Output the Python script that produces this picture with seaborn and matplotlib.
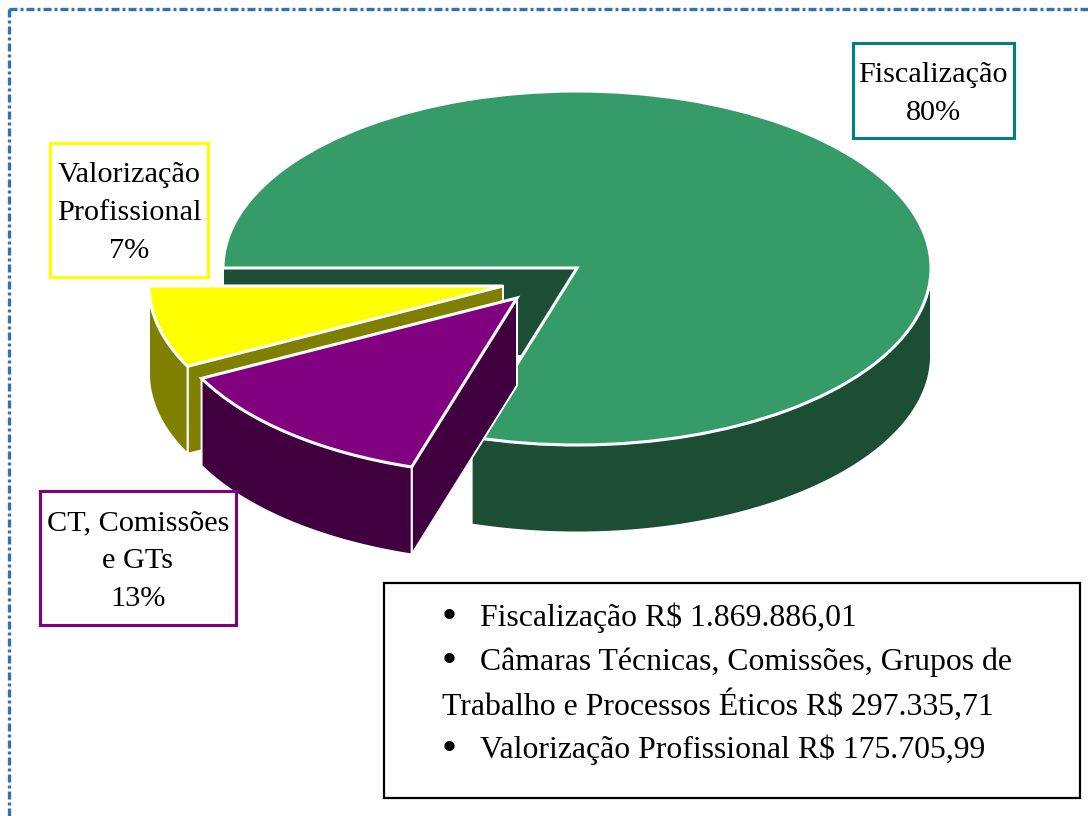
import numpy as np
import seaborn as sns
import matplotlib.pyplot as plt
from matplotlib.patches import Rectangle

categories = ["Fiscalização", "CT, Comissões\ne GTs", "Valorização\nProfissional"]
amounts = [1869886.01, 297335.71, 175705.99]
percent_labels = ["80%", "13%", "7%"]
legend_lines = ["Fiscalização R$ 1.869.886,01",
                "Câmaras Técnicas, Comissões, Grupos de",
                "Trabalho e Processos Éticos R$ 297.335,71",
                "Valorização Profissional R$ 175.705,99"]
top_colors = ["#359b68", "#800080", "#ffff00"]
side_colors = ["#1c4e36", "#400040", "#808000"]

W, H = 1088, 816
RX, RY = 354.0, 177.0
CX, CY = 577.0, 268.0
DEPTH = 87.5 / RY

sns.set_theme(style="white")
plt.rcParams["font.family"] = ["Liberation Serif", "DejaVu Serif"]

fig = plt.figure(figsize=(W / 100, H / 100), dpi=100)
ax = fig.add_axes([0, 0, 1, 1])
wedges, _ = ax.pie(amounts, colors=top_colors, startangle=180, counterclock=False,
                   wedgeprops=dict(edgecolor="white", linewidth=2.2))
# pie forces equal aspect, the tilt comes from squashing y
ax.set_aspect("auto")
ax.set_xlim(-CX / RX, (W - CX) / RX)
ax.set_ylim(-(H - CY) / RY, CY / RY)
ax.axis("off")


def fx(x):
    return x / W


def fy(y):
    return 1 - y / H


# slice offsets in data units
offsets = [(0, 0), ((517 - CX) / RX, (CY - 298) / RY), ((503 - CX) / RX, (CY - 286) / RY)]
shares = np.array(amounts) / sum(amounts) * 360
ends = 180 - np.cumsum(shares)
starts = ends + shares


def pt(a, off):
    return off[0] + np.cos(np.radians(a)), off[1] + np.sin(np.radians(a))


def wall(a1, a2, off, color, z):
    t = np.radians(np.linspace(a1, a2, 120))
    xs = off[0] + np.cos(t)
    ys = off[1] + np.sin(t)
    ax.fill(np.r_[xs, xs[::-1]], np.r_[ys, ys[::-1] - DEPTH], color=color,
            edgecolor="white", linewidth=1.4, zorder=z)


def face(a, off, color, z):
    px, py = pt(a, off)
    ax.fill([off[0], px, px, off[0]], [off[1], py, py - DEPTH, off[1] - DEPTH], color=color,
            edgecolor="white", linewidth=1.4, zorder=z)


# green: cut face behind the gap and the front wall
face(starts[0], offsets[0], side_colors[0], 1)
wall(ends[0], 0, offsets[0], side_colors[0], 1.5)
wedges[0].set_zorder(2)

# yellow: cut face towards purple and the outer wall
face(ends[1], offsets[2], side_colors[2], 3)
wall(ends[2] , starts[2], offsets[2], side_colors[2], 3)
wedges[2].set_center(offsets[2])
wedges[2].set_zorder(4)

# purple: cut face towards green and the outer wall
face(starts[1], offsets[1], side_colors[1], 5)
wall(ends[1], starts[1], offsets[1], side_colors[1], 5)
wedges[1].set_center(offsets[1])
wedges[1].set_zorder(6)

# dashed frame of the page, only top and left are in the crop
frame = dict(color="#2e74b5", linewidth=2.4, linestyle=(0, (2.4, 0.9, 0.9, 0.9)), transform=fig.transFigure, zorder=10)
ax.plot([fx(9), fx(W)], [fy(9), fy(9)], **frame, clip_on=False)
ax.plot([fx(9), fx(9)], [fy(9), fy(H)], **frame, clip_on=False)

label_boxes = [(853, 43, 161, 95, "#008080", 933),
               (40, 491, 196, 134, "#800080", 138),
               (50, 143, 158, 134, "#ffff00", 129)]
for (x, y, w, h, col, tx), cat, pct in zip(label_boxes, categories, percent_labels):
    fig.add_artist(Rectangle((fx(x), fy(y + h)), w / W, h / H, transform=fig.transFigure,
                             facecolor="white", edgecolor=col, linewidth=2.2, zorder=11))
    fig.text(fx(tx), fy(y + h / 2 + 3), cat + "\n" + pct, ha="center", va="center", fontsize=21.8,
             color="black", linespacing=1.6, zorder=12)

fig.add_artist(Rectangle((fx(384), fy(798)), 696 / W, 215 / H, transform=fig.transFigure,
                         facecolor="white", edgecolor="black", linewidth=1.6, zorder=11))
line_x = [480, 480, 442, 480]
line_y = [618, 662, 705, 750]
bullets = [618, 662, 750]
for txt, x, y in zip(legend_lines, line_x, line_y):
    fig.text(fx(x), fy(y), txt, ha="left", va="center", fontsize=22.9, color="black", zorder=12)
for y in bullets:
    fig.text(fx(449), fy(y), "•", ha="center", va="center", fontsize=31, color="black", zorder=12)

fig.savefig("out.png", dpi=100)
